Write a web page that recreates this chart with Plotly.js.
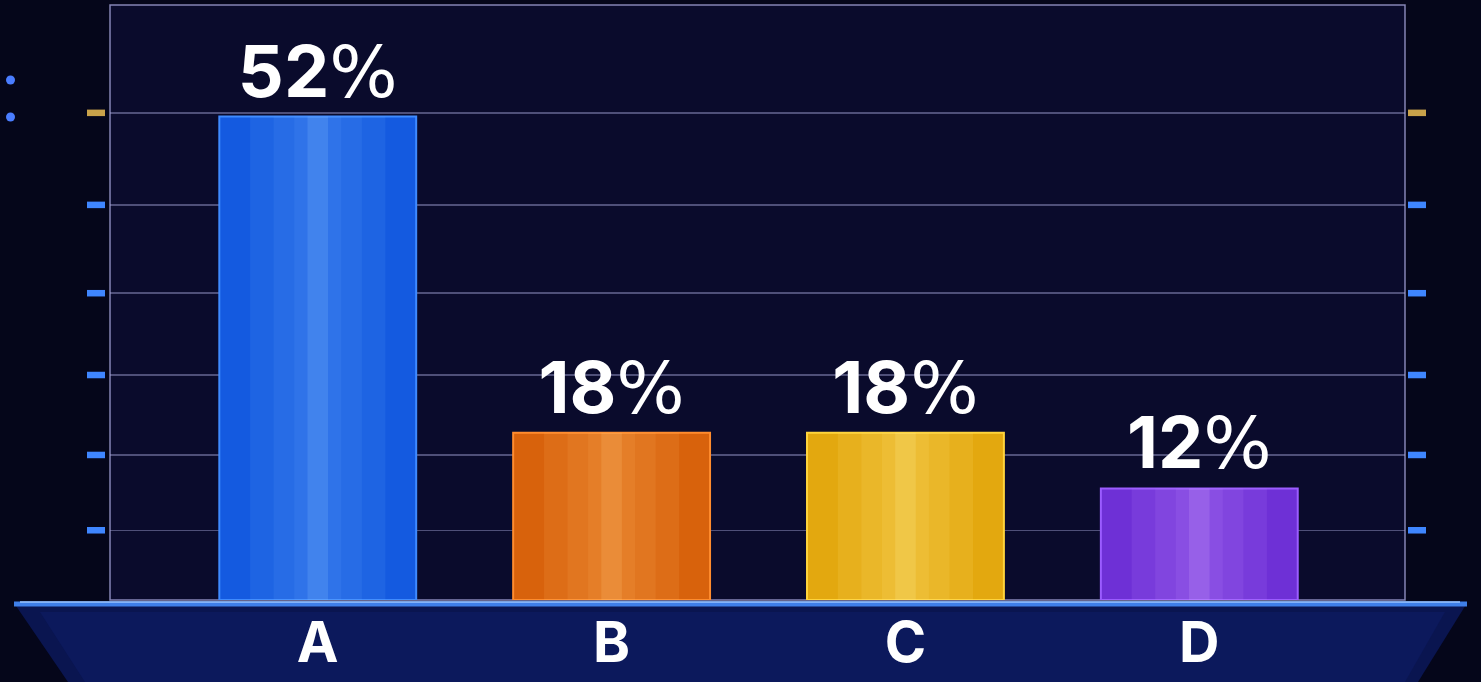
<!DOCTYPE html>
<html>
<head>
<meta charset="utf-8">
<script src="https://cdn.plot.ly/plotly-3.0.1.min.js"></script>
<style>
  html, body { margin: 0; padding: 0; background: #05061a; }
  #chart { width: 1481px; height: 682px; }
</style>
</head>
<body>
<div id="chart"></div>
<script>
// ---- data ----
const categories = ['A', 'B', 'C', 'D'];
const shares = [52, 18, 18, 12];
const labels = shares.map(v => '<b>' + v + '</b><span style="font-family:\'DejaVu Sans\';font-weight:normal">%</span>');

// ---- styling ----
const barColors   = ['#145ae0', '#d8620c', '#e3a80f', '#6e30d6'];
const edgeColors  = ['#3f8bff', '#ff8c2e', '#ffd43c', '#9b5cff'];
const shineWide   = ['rgba(110,170,255,0.12)', 'rgba(255,175,90,0.14)', 'rgba(255,230,120,0.14)', 'rgba(190,140,255,0.13)'];
const shineNarrow = ['rgba(140,195,255,0.20)', 'rgba(255,200,120,0.20)', 'rgba(255,240,150,0.20)', 'rgba(210,170,255,0.20)'];
const gridValues  = [7.5, 15.6, 24.2, 33, 42.5, 52.4];

const W = 1481, H = 682;
const M = { l: 110, r: 76, t: 5, b: 82 };
const PW = W - M.l - M.r, PH = H - M.t - M.b;
const px = x => (x - M.l) / PW;          // pixel -> paper x
const py = y => (H - M.b - y) / PH;      // pixel -> paper y

const shapes = [];
// plot frame
shapes.push({ type: 'rect', xref: 'paper', yref: 'paper', x0: 0, x1: 1, y0: 0, y1: 1,
  line: { color: 'rgba(175,175,230,0.75)', width: 1.5 }, layer: 'below' });
// bottom band (trapezoid)
shapes.push({ type: 'path', xref: 'paper', yref: 'paper', layer: 'below',
  path: `M ${px(14)} ${py(603)} L ${px(1467)} ${py(603)} L ${px(1418)} ${py(682)} L ${px(68)} ${py(682)} Z`,
  fillcolor: '#0a1550', line: { width: 0 } });
shapes.push({ type: 'path', xref: 'paper', yref: 'paper', layer: 'below',
  path: `M ${px(40)} ${py(612)} L ${px(1445)} ${py(612)} L ${px(1405)} ${py(682)} L ${px(85)} ${py(682)} Z`,
  fillcolor: '#0c195c', line: { width: 0 } });
// baseline glow
shapes.push({ type: 'line', xref: 'paper', yref: 'paper', layer: 'above',
  x0: px(14), x1: px(1467), y0: py(604), y1: py(604),
  line: { color: '#3f7fe8', width: 5 } });
shapes.push({ type: 'line', xref: 'paper', yref: 'paper', layer: 'above',
  x0: px(20), x1: px(1460), y0: py(602), y1: py(602),
  line: { color: '#9cc4ff', width: 1.5 } });
// side indicator marks
gridValues.forEach((g, i) => {
  const isTop = i === gridValues.length - 1;
  const c = isTop ? '#c9a24a' : '#3f86ff';
  [[87, 105], [1408, 1426]].forEach(([a, b]) => {
    shapes.push({ type: 'rect', xref: 'paper', yref: 'y', x0: px(a), x1: px(b),
      y0: g - 0.35, y1: g + 0.35, fillcolor: c, line: { width: 0 } });
  });
});
// small dots on far left
[80, 117].forEach(y => {
  shapes.push({ type: 'circle', xref: 'paper', yref: 'paper',
    x0: px(6), x1: px(15), y0: py(y + 4.5), y1: py(y - 4.5),
    fillcolor: '#4a7dff', line: { width: 0 } });
});

const traces = [
  {
    type: 'bar', x: categories, y: shares, width: 0.67,
    marker: { color: barColors, line: { color: edgeColors, width: 2 } },
    text: labels, textposition: 'outside', cliponaxis: false, constraintext: 'none',
    textfont: { family: 'Inter, Roboto, sans-serif', size: 72, color: '#ffffff' },
    hoverinfo: 'x+y'
  },
  {
    type: 'bar', x: categories, y: shares, width: 0.46,
    marker: { color: shineWide, line: { width: 0 } },
    hoverinfo: 'skip'
  },
  {
    type: 'bar', x: categories, y: shares, width: 0.3,
    marker: { color: shineWide, line: { width: 0 } },
    hoverinfo: 'skip'
  },
  {
    type: 'bar', x: categories, y: shares, width: 0.16,
    marker: { color: shineWide, line: { width: 0 } },
    hoverinfo: 'skip'
  },
  {
    type: 'bar', x: categories, y: shares, width: 0.07,
    marker: { color: shineNarrow, line: { width: 0 } },
    hoverinfo: 'skip'
  }
];

const layout = {
  width: W, height: H,
  margin: M,
  paper_bgcolor: '#05061a',
  plot_bgcolor: '#0a0b2c',
  barmode: 'overlay',
  showlegend: false,
  xaxis: {
    range: [-0.707, 3.70],
    showgrid: false, zeroline: false, showline: false,
    ticks: '', ticklabelstandoff: 5,
    tickfont: { family: 'Inter, Roboto, sans-serif', size: 56, color: '#ffffff', weight: 'bold' },
    fixedrange: true
  },
  yaxis: {
    range: [0, 64],
    tickvals: gridValues,
    showticklabels: false,
    showgrid: true, gridcolor: 'rgba(165,165,215,0.45)', gridwidth: 1.5,
    zeroline: false, showline: false, ticks: '',
    fixedrange: true
  },
  shapes: shapes
};

Plotly.newPlot('chart', traces, layout, { displayModeBar: false, staticPlot: true });
</script>
</body>
</html>
